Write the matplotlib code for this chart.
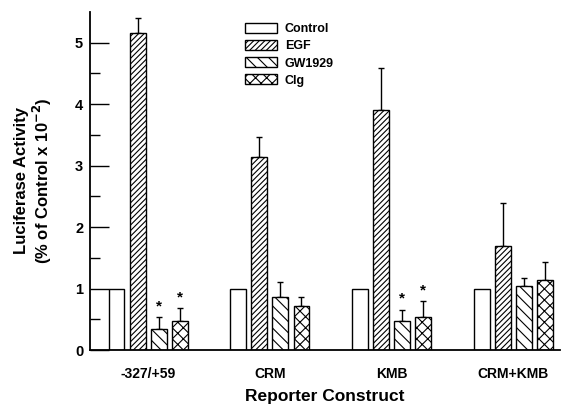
import numpy as np
import matplotlib.pyplot as plt

plt.rcParams['font.family'] = ['Liberation Sans', 'DejaVu Sans']
plt.rcParams['font.weight'] = 'bold'
plt.rcParams['axes.labelweight'] = 'bold'
plt.rcParams['mathtext.default'] = 'bf'
plt.rcParams['hatch.linewidth'] = 0.8

# data
constructs = ["-327/+59", "CRM", "KMB", "CRM+KMB"]
treatments = ["Control", "EGF", "GW1929", "Clg"]
control = [1.0, 1.0, 1.0, 1.0]
egf = [5.16, 3.14, 3.91, 1.69]
gw1929 = [0.34, 0.87, 0.47, 1.04]
clg = [0.47, 0.71, 0.54, 1.14]
control_err = [0, 0, 0, 0]
egf_err = [0.24, 0.33, 0.68, 0.70]
gw1929_err = [0.20, 0.23, 0.19, 0.14]
clg_err = [0.21, 0.16, 0.26, 0.29]
gw1929_sig = [True, False, True, False]
clg_sig = [True, False, True, False]

series = [control, egf, gw1929, clg]
errors = [control_err, egf_err, gw1929_err, clg_err]
sigs = [None, None, gw1929_sig, clg_sig]
hatches = ['', '//////', '\\\\\\', 'xxx']

fig = plt.figure(figsize=(5.63, 4.09), dpi=100)
ax = fig.add_axes([0.16, 0.144, 0.835, 0.827])

x = np.arange(len(constructs))
pitch = 0.173
width = 0.13
handles = []
for k, (vals, errs, hatch) in enumerate(zip(series, errors, hatches)):
    pos = x + (k - 1.5) * pitch
    b = ax.bar(pos, vals, width, color='white', edgecolor='black',
               linewidth=1.0, hatch=hatch, label=treatments[k], zorder=2)
    handles.append(b)
    has_err = np.array(errs) > 0
    ax.errorbar(pos[has_err], np.array(vals)[has_err],
                yerr=[np.zeros(has_err.sum()), np.array(errs)[has_err]],
                fmt='none', ecolor='black', elinewidth=1.0, capsize=2.5,
                capthick=1.0, zorder=1)
    # significance stars
    if sigs[k] is not None:
        for p, v, e, s in zip(pos, vals, errs, sigs[k]):
            if s:
                ax.text(p, v + e + 0.06, '*', ha='center', va='bottom',
                        fontsize=11)

ax.set_xlim(-0.477, 3.385)
ax.set_ylim(0, 5.5)
ax.set_yticks([0, 1, 2, 3, 4, 5])
ax.set_yticks(np.arange(0.5, 5.5, 1.0), minor=True)
ax.tick_params(axis='y', which='major', direction='in', length=14, width=1.0,
               labelsize=10.5, pad=5)
ax.tick_params(axis='y', which='minor', direction='in', length=7, width=1.0)
ax.set_xticks(x)
ax.set_xticklabels(constructs, fontsize=10)
ax.tick_params(axis='x', length=0, pad=12)
for side in ['top', 'right']:
    ax.spines[side].set_visible(False)
for side in ['left', 'bottom']:
    ax.spines[side].set_linewidth(1.3)

ax.set_ylabel("Luciferase Activity\n(% of Control x 10$^{-2}$)",
              fontsize=12, labelpad=15, linespacing=1.1)
ax.set_xlabel("Reporter Construct", fontsize=12.5, labelpad=6)

ax.legend(handles=handles, loc='upper left', bbox_to_anchor=(0.305, 1.0),
          frameon=False, fontsize=9, handlelength=2.6, handleheight=0.85,
          labelspacing=0.38, handletextpad=0.6)

fig.savefig('out.png', dpi=100)
